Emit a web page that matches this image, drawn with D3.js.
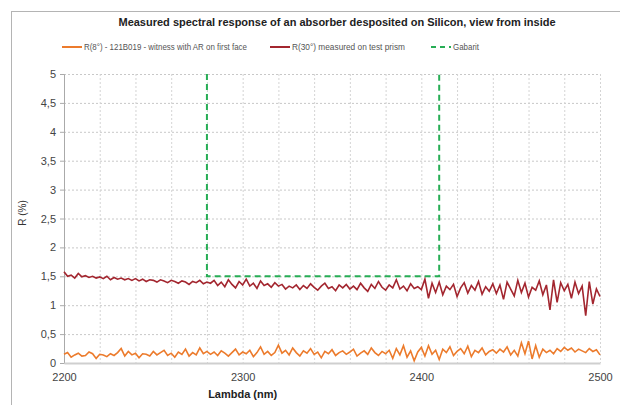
<!DOCTYPE html>
<html>
<head>
<meta charset="utf-8">
<script src="https://cdn.jsdelivr.net/npm/d3@7"></script>
<style>
  body { margin: 0; background: #fff; }
  svg { display: block; font-family: "Liberation Sans", Arial, sans-serif; }
</style>
</head>
<body>
<svg id="chart" width="620" height="405"></svg>
<script>
// wavelengths, 2 nm step
const lambda = d3.range(2200, 2501, 2);

// R(30°) measured on test prism
const r30 = [
  1.58,1.50,1.52,1.47,1.55,1.49,1.51,1.48,1.50,1.47,1.49,1.46,1.50,1.44,1.48,1.45,1.47,1.44,1.46,1.43,1.46,
  1.42,1.45,1.41,1.44,1.43,1.40,1.44,1.42,1.39,1.43,1.41,1.38,1.42,1.40,1.36,1.41,1.39,1.43,1.37,1.40,
  1.38,1.43,1.34,1.40,1.32,1.44,1.36,1.30,1.41,1.35,1.45,1.33,1.38,1.29,1.42,1.34,1.37,1.31,1.39,1.33,
  1.36,1.28,1.33,1.30,1.35,1.27,1.34,1.29,1.37,1.31,1.26,1.33,1.38,1.29,1.32,1.25,1.35,1.30,1.36,1.28,
  1.33,1.27,1.38,1.30,1.24,1.36,1.29,1.41,1.31,1.26,1.35,1.30,1.44,1.28,1.33,1.25,1.37,1.29,1.32,1.27,
  1.45,1.12,1.38,1.22,1.40,1.18,1.33,1.27,1.36,1.15,1.30,1.39,1.21,1.34,1.26,1.41,1.19,1.32,1.24,1.37,
  1.20,1.35,1.10,1.40,1.28,1.16,1.43,1.22,1.38,1.14,1.31,1.26,1.42,1.18,1.35,0.92,1.44,1.05,1.39,1.25,
  1.36,1.12,1.40,1.20,1.33,0.82,1.41,1.02,1.28,1.15
];

// R(8°) - 121B019 witness
const r8 = [
  0.15,0.18,0.10,0.14,0.17,0.12,0.13,0.19,0.16,0.08,0.15,0.14,0.11,0.16,0.13,0.18,0.25,0.12,0.20,0.14,0.17,
  0.09,0.16,0.15,0.12,0.20,0.14,0.18,0.22,0.13,0.17,0.10,0.19,0.15,0.24,0.12,0.18,0.14,0.26,0.16,0.20,
  0.15,0.19,0.13,0.21,0.17,0.12,0.18,0.24,0.14,0.19,0.16,0.22,0.11,0.18,0.28,0.15,0.20,0.13,0.18,0.31,
  0.17,0.22,0.14,0.26,0.18,0.12,0.21,0.17,0.25,0.15,0.19,0.09,0.20,0.16,0.23,0.13,0.18,0.21,0.15,0.19,
  0.24,0.12,0.17,0.21,0.15,0.26,0.18,0.13,0.20,0.16,0.22,0.08,0.25,0.14,0.30,0.10,0.21,0.04,0.19,0.27,
  0.12,0.30,0.15,0.22,0.06,0.24,0.18,0.28,0.13,0.20,0.25,0.16,0.29,0.11,0.22,0.18,0.26,0.14,0.20,0.23,
  0.17,0.24,0.19,0.28,0.14,0.22,0.12,0.35,0.16,0.38,0.07,0.30,0.10,0.24,0.18,0.22,0.16,0.25,0.20,0.27,
  0.22,0.26,0.19,0.24,0.21,0.18,0.25,0.20,0.23,0.14
];

// Gabarit template
const gabaritX = [2280, 2280, 2410, 2410];
const gabaritY = [5, 1.5, 1.5, 5];

const xTicks = [2200, 2300, 2400, 2500];
const yTicks = [0, 0.5, 1, 1.5, 2, 2.5, 3, 3.5, 4, 4.5, 5];

const legendLabels = [
  'R(8°) - 121B019 - witness with AR on first face',
  'R(30°) measured on test prism',
  'Gabarit'
];

const colors = { r8: '#ec7b2c', r30: '#a3262f', gab: '#27ad55' };

const svg = d3.select('#chart');
const margin = { left: 64, right: 20, top: 74, bottom: 42 };
const width = 620 - margin.left - margin.right;
const height = 405 - margin.top - margin.bottom;

// outer frame
svg.append('rect')
  .attr('x', 11.5).attr('y', 11.5)
  .attr('width', 620).attr('height', 420)
  .attr('fill', 'none').attr('stroke', '#b4b4b4');

const x = d3.scaleLinear().domain([2200, 2500]).range([0, width]);
const y = d3.scaleLinear().domain([0, 5]).range([height, 0]);

const g = svg.append('g').attr('transform', `translate(${margin.left},${margin.top})`);

// grid
g.append('g').selectAll('line')
  .data(yTicks.filter(d => d > 0))
  .join('line')
  .attr('x1', 0).attr('x2', width)
  .attr('y1', d => y(d) + 0.5).attr('y2', d => y(d) + 0.5)
  .attr('stroke', '#c8c8c8').attr('stroke-dasharray', '2,2');

g.append('g').selectAll('line')
  .data(d3.range(2220, 2501, 20))
  .join('line')
  .attr('x1', d => x(d) + 0.5).attr('x2', d => x(d) + 0.5)
  .attr('y1', 0).attr('y2', height)
  .attr('stroke', '#d4d4d4').attr('stroke-dasharray', '2,2');

// axes
const yAxis = g.append('g')
  .call(d3.axisLeft(y).tickValues(yTicks).tickSize(4)
    .tickFormat(d => String(d).replace('.', ',')));
yAxis.select('.domain').attr('stroke', '#aaa');
yAxis.selectAll('.tick line').attr('stroke', '#aaa');
yAxis.selectAll('text').attr('fill', '#444').style('font-size', '11px').attr('x', -8);

const xAxis = g.append('g')
  .attr('transform', `translate(0,${height})`)
  .call(d3.axisBottom(x).tickValues(xTicks).tickSize(0).tickFormat(d3.format('d')));
xAxis.select('.domain').attr('stroke', '#cfcfcf').attr('stroke-width', 2);
xAxis.selectAll('text').attr('fill', '#444').style('font-size', '11px').attr('dy', '1.4em');

// series
const line = d3.line().x((d, i) => x(lambda[i])).y(d => y(d));

g.append('path').datum(r8)
  .attr('d', line).attr('fill', 'none')
  .attr('stroke', colors.r8).attr('stroke-width', 1.6);

g.append('path').datum(r30)
  .attr('d', line).attr('fill', 'none')
  .attr('stroke', colors.r30).attr('stroke-width', 1.6);

g.append('path').datum(gabaritY)
  .attr('d', d3.line().x((d, i) => x(gabaritX[i])).y(d => y(d)))
  .attr('fill', 'none')
  .attr('stroke', colors.gab).attr('stroke-width', 2)
  .attr('stroke-dasharray', '6,4');

// titles
svg.append('text')
  .attr('x', 337).attr('y', 26)
  .attr('text-anchor', 'middle')
  .style('font-size', '11px').style('font-weight', 'bold').attr('fill', '#222')
  .text('Measured spectral response of an absorber desposited on Silicon, view from inside');

svg.append('text')
  .attr('x', margin.left + x(2300)).attr('y', 398)
  .attr('text-anchor', 'middle')
  .style('font-size', '11px').style('font-weight', 'bold').attr('fill', '#222')
  .text('Lambda (nm)');

svg.append('text')
  .attr('transform', 'translate(26,213) rotate(-90)')
  .attr('text-anchor', 'middle')
  .style('font-size', '10px').attr('fill', '#333')
  .text('R (%)');

// legend
const legendX = [62, 270, 431];
const legendW = [163, 113, 26];
const legendStyle = [
  { c: colors.r8, dash: null },
  { c: colors.r30, dash: null },
  { c: colors.gab, dash: '5,4' }
];
const leg = svg.append('g').selectAll('g')
  .data(legendLabels)
  .join('g')
  .attr('transform', (d, i) => `translate(${legendX[i]},50)`);
leg.append('line')
  .attr('x1', 0).attr('x2', 20).attr('y1', -3).attr('y2', -3)
  .attr('stroke', (d, i) => legendStyle[i].c).attr('stroke-width', 2)
  .attr('stroke-dasharray', (d, i) => legendStyle[i].dash);
leg.append('text')
  .attr('x', 22).attr('y', 0)
  .style('font-size', '9px').attr('fill', '#555')
  .attr('textLength', (d, i) => legendW[i])
  .attr('lengthAdjust', 'spacingAndGlyphs')
  .text(d => d);
</script>
</body>
</html>
